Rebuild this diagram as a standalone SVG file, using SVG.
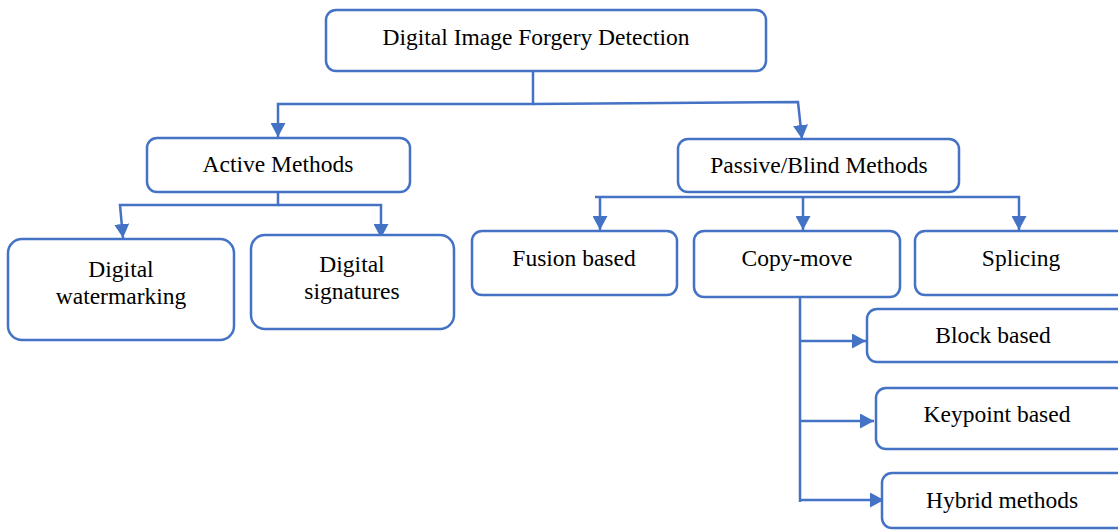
<svg xmlns="http://www.w3.org/2000/svg" width="1118" height="530" viewBox="0 0 1118 530">
<defs>
<style>
.box{fill:#ffffff;stroke:#4472C4;stroke-width:2.5}
.lbl{font-family:"Liberation Serif","Times New Roman",serif;font-size:23.5px;fill:#000;text-anchor:middle}
.c{fill:none;stroke:#4472C4;stroke-width:2.5}
</style>
<marker id="ah" viewBox="0 0 14 15" refX="14" refY="7.5" markerWidth="14" markerHeight="15" markerUnits="userSpaceOnUse" orient="auto">
<path d="M0,0 L14,7.5 L0,15 z" fill="#4472C4"/>
</marker>
</defs>
<rect width="1118" height="530" fill="#ffffff"/>
<g id="connectors">
<polyline class="c" points="533,71 533,104 278,104 278,137" marker-end="url(#ah)"/>
<polyline class="c" points="533,104 798,102 802,139" marker-end="url(#ah)"/>
<polyline class="c" points="278,183 278,205 120,205 123,238" marker-end="url(#ah)"/>
<polyline class="c" points="278,205 381,205 381,238" marker-end="url(#ah)"/>
<polyline class="c" points="595,197 1019,197 1019,230" marker-end="url(#ah)"/>
<polyline class="c" points="600,197 600,230" marker-end="url(#ah)"/>
<polyline class="c" points="803,197 803,230" marker-end="url(#ah)"/>
<polyline class="c" points="800,272 800,502"/>
<polyline class="c" points="800,341 866,341" marker-end="url(#ah)"/>
<polyline class="c" points="800,421 874,421" marker-end="url(#ah)"/>
<polyline class="c" points="800,500 884,500" marker-end="url(#ah)"/>
</g>
<g id="root"><rect class="box" x="326" y="10" width="440" height="61" rx="10"/><text class="lbl" x="536" y="45">Digital Image Forgery Detection</text></g>
<g id="active"><rect class="box" x="147" y="138" width="263" height="54" rx="10"/><text class="lbl" x="278" y="172">Active Methods</text></g>
<g id="passive"><rect class="box" x="678" y="139" width="281" height="53" rx="10"/><text class="lbl" x="819" y="173">Passive/Blind Methods</text></g>
<g id="watermarking"><rect class="box" x="8" y="239" width="226" height="101" rx="14"/><text class="lbl" x="121" y="277">Digital</text><text class="lbl" x="121" y="304">watermarking</text></g>
<g id="signatures"><rect class="box" x="251" y="235" width="203" height="94" rx="14"/><text class="lbl" x="352" y="272">Digital</text><text class="lbl" x="352" y="299">signatures</text></g>
<g id="fusion"><rect class="box" x="472" y="231" width="205" height="64" rx="10"/><text class="lbl" x="574" y="266">Fusion based</text></g>
<g id="copymove"><rect class="box" x="694" y="231" width="206" height="66" rx="10"/><text class="lbl" x="797" y="266">Copy-move</text></g>
<g id="splicing"><rect class="box" x="915" y="231" width="215" height="64" rx="10"/><text class="lbl" x="1021" y="266">Splicing</text></g>
<g id="block"><rect class="box" x="867" y="309" width="260" height="53" rx="10"/><text class="lbl" x="993" y="343">Block based</text></g>
<g id="keypoint"><rect class="box" x="876" y="388" width="250" height="61" rx="10"/><text class="lbl" x="997" y="422">Keypoint based</text></g>
<g id="hybrid"><rect class="box" x="882" y="473" width="245" height="55" rx="10"/><text class="lbl" x="1002" y="508">Hybrid methods</text></g>
</svg>
